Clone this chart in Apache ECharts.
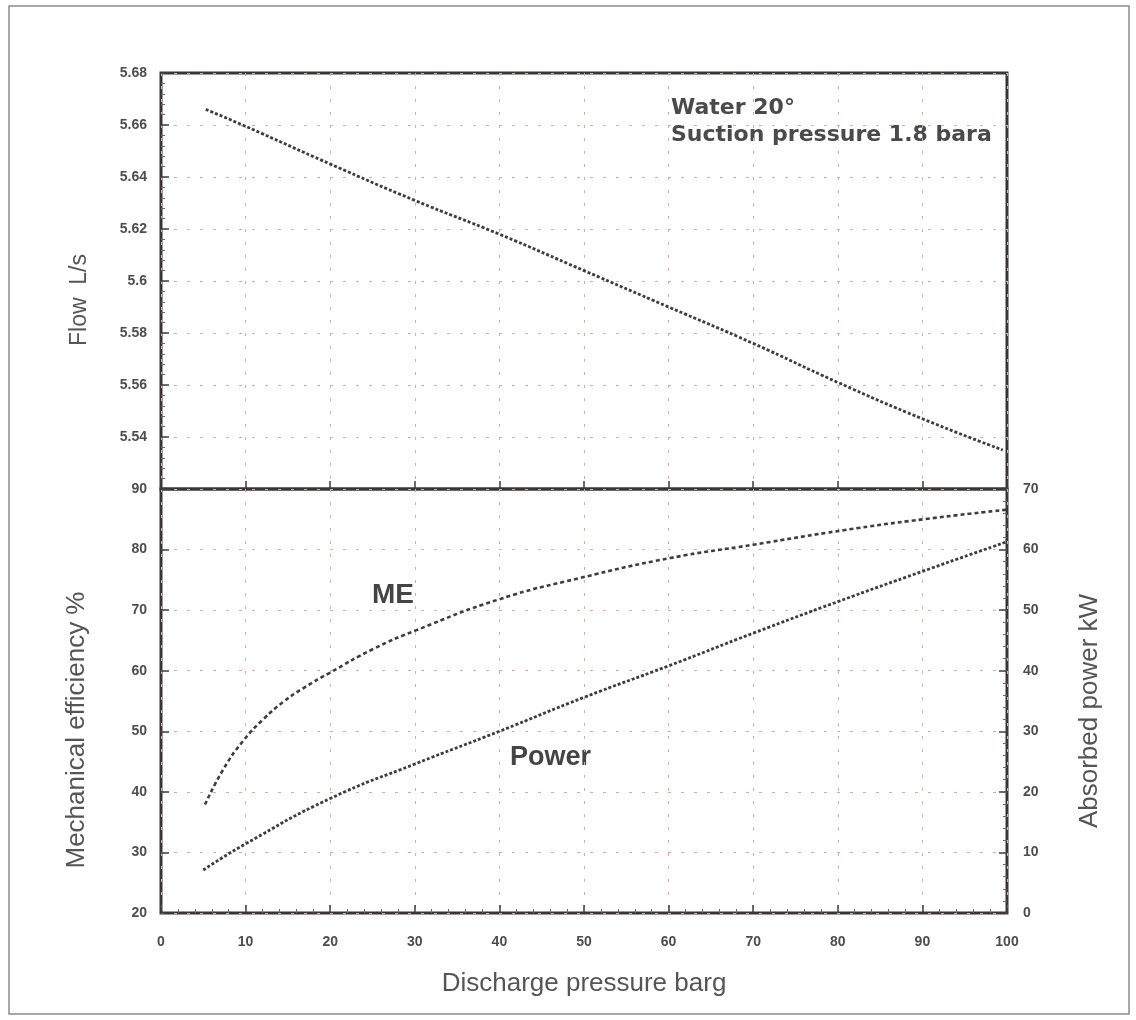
<!DOCTYPE html>
<html>
<head>
<meta charset="utf-8">
<title>Pump performance vs discharge pressure</title>
<script src="https://cdn.jsdelivr.net/npm/echarts@6/dist/echarts.min.js"></script>
<style>
  html, body { margin: 0; padding: 0; background: #ffffff; }
  #chart { width: 1136px; height: 1020px; }
</style>
</head>
<body>
<div id="chart"></div>
<script>
// Flow rate (L/s) against discharge pressure (barg)
const flowPressure = [5.3, 10, 20, 30, 40, 50, 60, 70, 80, 90, 99.5];
const flowValues   = [5.666, 5.6595, 5.645, 5.631, 5.618, 5.604, 5.590, 5.576, 5.561, 5.547, 5.535];

// Mechanical efficiency (%) against discharge pressure (barg)
const mePressure = [5.2, 7.4, 9.7, 12.1, 14.5, 16.8, 20, 25.1, 30.2, 40, 49.5, 60.2, 70, 80.7, 90.1, 100];
const meValues   = [37.9, 43.8, 48.4, 52.0, 54.9, 57.1, 59.7, 63.6, 66.7, 71.8, 75.3, 78.6, 80.8, 83.2, 85.0, 86.6];

// Absorbed power (kW) against discharge pressure (barg)
const powerPressure = [5, 10.1, 20, 30.2, 40, 50, 60, 70, 80, 90, 100];
const powerValues   = [7.1, 11.5, 18.9, 24.7, 30.0, 35.6, 40.8, 46.2, 51.4, 56.4, 61.3];

// Axis tick values
const pressureTicks = [0, 10, 20, 30, 40, 50, 60, 70, 80, 90, 100];
const flowTicks     = [5.52, 5.54, 5.56, 5.58, 5.6, 5.62, 5.64, 5.66, 5.68];
const meTicks       = [20, 30, 40, 50, 60, 70, 80, 90];
const powerTicks    = [0, 10, 20, 30, 40, 50, 60, 70];

const pair = (xs, ys) => xs.map((x, i) => [x, ys[i]]);

const FONT = "'Liberation Sans', Arial, sans-serif";
const INK = '#3d3d3d';
const LABEL = '#4d4d4d';

const tickLabel = {
  color: LABEL, fontFamily: FONT, fontSize: 14, fontWeight: 'bold'
};
const gridLine = {
  show: true,
  lineStyle: { color: '#dcaaaa', width: 1, type: [3, 10] }
};
const innerTick = { show: true, inside: true, length: 8, lineStyle: { color: INK, width: 1.5 } };
const innerMinor = { show: true, splitNumber: 5, length: 4, lineStyle: { color: '#666', width: 1 } };

const nameStyle = { color: '#555', fontFamily: FONT, fontSize: 26 };

const chart = echarts.init(document.getElementById('chart'), null, { renderer: 'canvas' });

chart.setOption({
  animation: false,
  backgroundColor: '#ffffff',
  grid: [
    { left: 161, top: 73, width: 846, height: 416, show: true,
      borderColor: '#363636', borderWidth: 3, backgroundColor: 'transparent' },
    { left: 161, top: 489, width: 846, height: 424, show: true,
      borderColor: '#363636', borderWidth: 3, backgroundColor: 'transparent' }
  ],
  xAxis: [
    { type: 'value', gridIndex: 0, min: pressureTicks[0], max: pressureTicks[pressureTicks.length - 1],
      interval: 10, axisLine: { show: false }, axisLabel: { show: false },
      axisTick: innerTick, splitLine: gridLine },
    { type: 'value', gridIndex: 1, min: pressureTicks[0], max: pressureTicks[pressureTicks.length - 1],
      interval: 10, axisLine: { show: false },
      axisLabel: Object.assign({ margin: 22 }, tickLabel),
      axisTick: innerTick, minorTick: innerMinor, splitLine: gridLine,
      name: 'Discharge pressure barg', nameLocation: 'middle', nameGap: 58,
      nameTextStyle: nameStyle }
  ],
  yAxis: [
    { type: 'value', gridIndex: 0, min: flowTicks[0], max: flowTicks[flowTicks.length - 1],
      interval: 0.02, axisLine: { show: false },
      axisLabel: Object.assign({ margin: 14, showMinLabel: false,
        formatter: v => String(+v.toFixed(2)) }, tickLabel),
      axisTick: innerTick, minorTick: innerMinor, splitLine: gridLine,
      name: 'Flow  L/s', nameLocation: 'middle', nameGap: 70, nameRotate: 90,
      nameTextStyle: Object.assign({}, nameStyle, { fontSize: 23, padding: [0, 38, 0, 0] }) },
    { type: 'value', gridIndex: 1, min: meTicks[0], max: meTicks[meTicks.length - 1],
      interval: 10, axisLine: { show: false },
      axisLabel: Object.assign({ margin: 14 }, tickLabel),
      axisTick: innerTick, splitLine: gridLine,
      name: 'Mechanical efficiency %', nameLocation: 'middle', nameGap: 71, nameRotate: 90,
      nameTextStyle: Object.assign({}, nameStyle, { padding: [0, 58, 0, 0] }) },
    { type: 'value', gridIndex: 1, position: 'right', min: powerTicks[0], max: powerTicks[powerTicks.length - 1],
      interval: 10, axisLine: { show: false },
      axisLabel: Object.assign({ margin: 16 }, tickLabel),
      axisTick: innerTick, minorTick: innerMinor, splitLine: { show: false },
      name: 'Absorbed power kW', nameLocation: 'middle', nameGap: 70, nameRotate: 90,
      nameTextStyle: Object.assign({}, nameStyle, { padding: [0, 20, 0, 0] }) }
  ],
  series: [
    { name: 'Flow', type: 'line', xAxisIndex: 0, yAxisIndex: 0, smooth: true, symbol: 'none',
      data: pair(flowPressure, flowValues),
      lineStyle: { color: INK, width: 2.8, type: [3, 2] } },
    { name: 'ME', type: 'line', xAxisIndex: 1, yAxisIndex: 1, smooth: true, symbol: 'none',
      data: pair(mePressure, meValues),
      lineStyle: { color: INK, width: 2.6, type: [4, 3] } },
    { name: 'Power', type: 'line', xAxisIndex: 1, yAxisIndex: 2, smooth: true, symbol: 'none',
      data: pair(powerPressure, powerValues),
      lineStyle: { color: INK, width: 2.8, type: [3, 2] } }
  ],
  graphic: [
    { type: 'rect', silent: true, z: -1,
      shape: { x: 9, y: 6, width: 1120, height: 1008 },
      style: { fill: 'none', stroke: '#8a8a8a', lineWidth: 1.5 } },
    { type: 'text', left: 671, top: 97,
      style: { text: 'Water 20°', fill: '#4a4a4a', font: "bold 22px 'DejaVu Sans', sans-serif" } },
    { type: 'text', left: 671, top: 124,
      style: { text: 'Suction pressure 1.8 bara', fill: '#4a4a4a', font: "bold 22px 'DejaVu Sans', sans-serif" } },
    { type: 'text', left: 372, top: 581,
      style: { text: 'ME', fill: '#444', font: "bold 28px 'Liberation Sans', Arial, sans-serif" } },
    { type: 'text', left: 510, top: 744,
      style: { text: 'Power', fill: '#444', font: "bold 27px 'Liberation Sans', Arial, sans-serif" } }
  ]
});
</script>
</body>
</html>
